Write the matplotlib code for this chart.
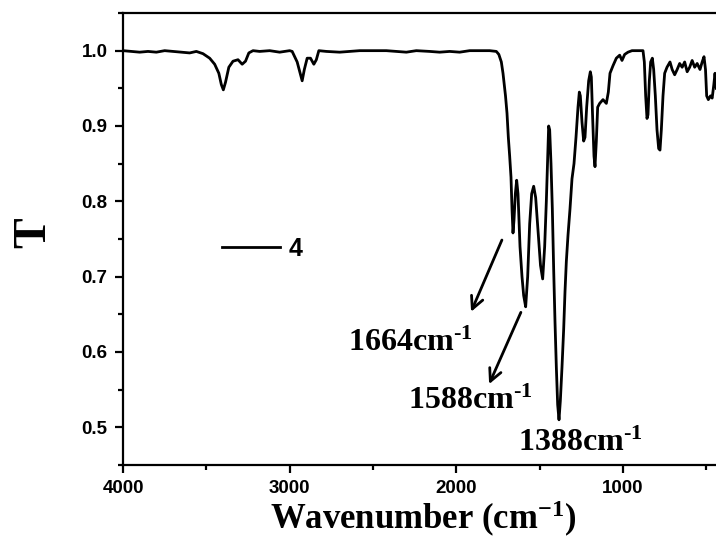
import matplotlib
matplotlib.use("Agg")
import matplotlib.pyplot as plt
from matplotlib.ticker import MultipleLocator, FormatStrFormatter

# FT-IR spectrum of sample 4
wavenumber = [4000, 3950, 3900, 3850, 3800, 3750, 3700, 3650, 3600, 3560,
              3520, 3480, 3450, 3425, 3410, 3398, 3385, 3365, 3340, 3310,
              3285, 3265, 3245, 3220, 3180, 3120, 3060, 3000, 2985, 2955,
              2935, 2925, 2912, 2895, 2875, 2855, 2840, 2825, 2780, 2700,
              2640, 2580, 2500, 2420, 2360, 2300, 2240, 2160, 2100, 2040,
              1980, 1920, 1860, 1800, 1760, 1745, 1730, 1720, 1705, 1696,
              1688, 1680, 1672, 1666, 1660, 1654, 1646, 1638, 1630, 1618,
              1606, 1596, 1584, 1572, 1560, 1548, 1536, 1524, 1510, 1495,
              1482, 1470, 1460, 1452, 1446, 1440, 1432, 1424, 1416, 1408,
              1400, 1392, 1384, 1376, 1366, 1356, 1348, 1340, 1330, 1318,
              1306, 1294, 1282, 1270, 1262, 1256, 1246, 1236, 1228, 1218,
              1206, 1196, 1190, 1182, 1174, 1168, 1160, 1152, 1140, 1120,
              1100, 1088, 1078, 1060, 1040, 1020, 1006, 990, 970, 946,
              910, 880, 872, 864, 856, 850, 842, 834, 824, 816,
              806, 796, 786, 778, 770, 760, 750, 736, 718, 705,
              690, 675, 660, 645, 630, 615, 600, 585, 570, 555,
              538, 525, 514, 505, 498, 488, 475, 465, 455, 448, 440]
transmittance = [1.0, 0.999, 0.998, 0.999, 0.998, 1.0, 0.999, 0.998, 0.997, 0.999,
                 0.996, 0.99, 0.982, 0.97, 0.955, 0.948, 0.958, 0.978, 0.986, 0.988,
                 0.982, 0.986, 0.997, 1.0, 0.999, 1.0, 0.998, 1.0, 0.999, 0.985,
                 0.968, 0.96, 0.975, 0.99, 0.99, 0.982, 0.988, 1.0, 0.999, 0.998,
                 0.999, 1.0, 1.0, 1.0, 0.999, 0.998, 1.0, 0.999, 0.998, 0.999,
                 0.998, 1.0, 1.0, 1.0, 0.999, 0.995, 0.985, 0.97, 0.94, 0.917,
                 0.885, 0.86, 0.832, 0.79, 0.758, 0.775, 0.81, 0.828, 0.81, 0.74,
                 0.70, 0.675, 0.66, 0.70, 0.77, 0.81, 0.82, 0.805, 0.762, 0.715,
                 0.697, 0.74, 0.80, 0.86, 0.90, 0.895, 0.85, 0.79, 0.71, 0.64,
                 0.58, 0.53, 0.51, 0.535, 0.58, 0.63, 0.68, 0.72, 0.755, 0.79,
                 0.83, 0.85, 0.885, 0.925, 0.945, 0.94, 0.905, 0.88, 0.885, 0.925,
                 0.96, 0.972, 0.965, 0.91, 0.86, 0.846, 0.88, 0.925, 0.93, 0.935,
                 0.93, 0.945, 0.97, 0.98, 0.99, 0.994, 0.987, 0.995, 0.998, 1.0,
                 1.0, 1.0, 0.985, 0.94, 0.91, 0.915, 0.96, 0.985, 0.99, 0.975,
                 0.94, 0.895, 0.87, 0.868, 0.895, 0.94, 0.97, 0.978, 0.985, 0.975,
                 0.968, 0.975, 0.983, 0.978, 0.985, 0.972, 0.978, 0.987, 0.978, 0.983,
                 0.975, 0.985, 0.992, 0.975, 0.94, 0.935, 0.94, 0.937, 0.955, 0.97, 0.95]

peak_labels = ["1664", "1588", "1388"]
series_name = "4"

plt.rcParams['mathtext.default'] = 'regular'

fig = plt.figure(figsize=(7.16, 5.38), dpi=100)
ax = fig.add_axes([123/716, 73/538, 600/716, 452/538])

ax.plot(wavenumber, transmittance, color='black', lw=2.0, label=series_name)

ax.set_xlim(4000, 400)
ax.set_ylim(0.45, 1.05)
ax.xaxis.set_major_locator(MultipleLocator(1000))
ax.xaxis.set_minor_locator(MultipleLocator(500))
ax.yaxis.set_major_locator(MultipleLocator(0.1))
ax.yaxis.set_minor_locator(MultipleLocator(0.05))
ax.yaxis.set_major_formatter(FormatStrFormatter('%.1f'))

for s in ax.spines.values():
    s.set_linewidth(1.6)
ax.tick_params(which='major', direction='out', length=6, width=1.6, pad=5)
ax.tick_params(which='minor', direction='out', length=3.5, width=1.6)
for lab in ax.get_xticklabels() + ax.get_yticklabels():
    lab.set_fontfamily('Liberation Sans')
    lab.set_fontweight('bold')
    lab.set_fontsize(13.5)

ax.set_xlabel('Wavenumber (cm$^{-1}$)', family='Liberation Serif',
              fontweight='bold', fontsize=25, labelpad=1)
ax.set_ylabel('T', family='Liberation Serif', fontweight='bold', fontsize=33)
ax.yaxis.set_label_coords(-0.113, 0.515)

ax.legend(loc='center left', bbox_to_anchor=(0.165, 0.478), frameon=False,
          handlelength=2.3, handletextpad=0.35, borderpad=0, borderaxespad=0,
          prop={'family': 'Liberation Sans', 'weight': 'bold', 'size': 18})

# arrows pointing at the two carbonyl bands
arr = dict(arrowstyle='->', lw=2, color='black', mutation_scale=22)
ax.annotate('', xy=(1918, 0.65), xytext=(1720, 0.752), arrowprops=arr)
ax.annotate('', xy=(1810, 0.554), xytext=(1606, 0.656), arrowprops=arr)

# short hyphen in the superscript, as in the reference
sup = 'cm$^{\u2010 1}$'
lab_font = dict(family='Liberation Serif', fontweight='bold', fontsize=23,
                ha='left', va='baseline')
ax.text(2650, 0.601, peak_labels[0] + sup, **lab_font)
ax.text(2290, 0.524, peak_labels[1] + sup, **lab_font)
ax.text(1630, 0.468, peak_labels[2] + sup, **lab_font)

fig.savefig('out.png', dpi=100)
